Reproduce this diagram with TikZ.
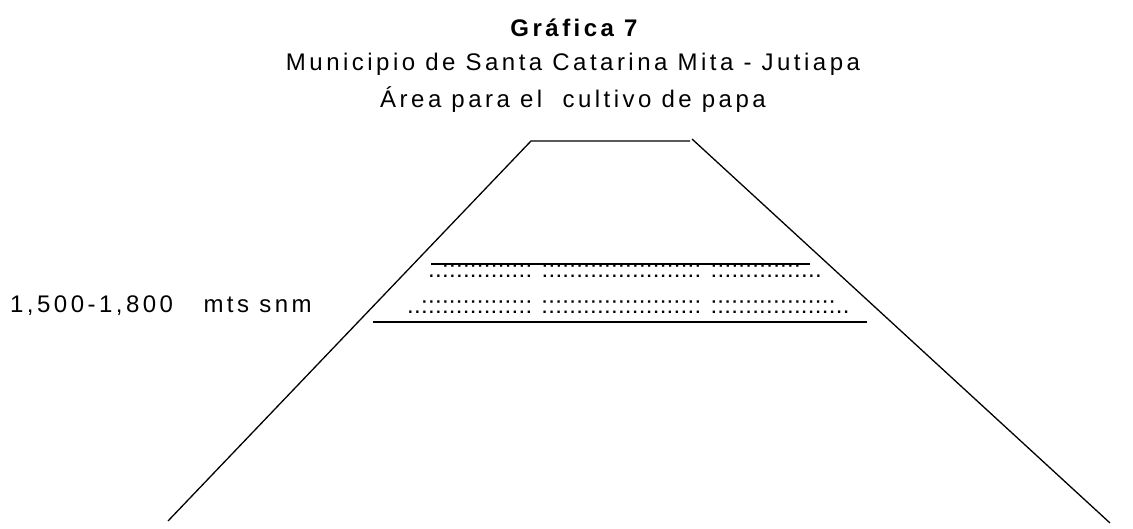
\documentclass[tikz,border=0pt]{standalone}
\usepackage{fontspec}
\setmainfont{Liberation Sans}
\begin{document}
\begin{tikzpicture}[x=1bp,y=-1bp,
rotulo/.style={inner sep=0pt,anchor=base,font=\fontsize{24bp}{28bp}\selectfont\addfontfeature{LetterSpace=14.5}},
puntos/.style={inner sep=0pt,anchor=base west,font=\fontsize{24bp}{28bp}\selectfont\addfontfeature{LetterSpace=1.2}},
ladera/.style={line width=1.3bp},
franja/.style={line width=1.7bp}]
\useasboundingbox (0,0) rectangle (1133,529);

\draw (574,37) node[rotulo] (G) {\bfseries Gráfica 7};
\draw (573,71) node[rotulo] (M) {Municipio de Santa Catarina Mita - Jutiapa};
\draw (573,108) node[rotulo] (A) {Área para el \ cultivo de papa};

% cerro
\coordinate (pieizq) at (168,521);
\coordinate (cimaizq) at (531,141);
\coordinate (cimader) at (690,141);
\coordinate (iniciader) at (692,139);
\coordinate (pieder) at (1110,523);
\draw[ladera] (pieizq) -- (cimaizq) -- (cimader);
\draw[ladera] (iniciader) -- (pieder);

% franja de cultivo
\coordinate (sup1) at (431,263.7);
\coordinate (sup2) at (810,263.7);
\coordinate (inf1) at (373,322.3);
\coordinate (inf2) at (867,322.3);
\draw[franja] (sup1) -- (sup2);
\draw[franja] (inf1) -- (inf2);

\draw (428,278) node[puntos] (P1) {..::::::::::::: ::::::::::::::::::::::: :::::::::::::...};
\draw (407,313.5) node[puntos] (P2) {..:::::::::::::::: ::::::::::::::::::::::: ::::::::::::::::::..};

\draw (10,313) node[rotulo,anchor=base west] (alt) {1,500-1,800\ \ \ mts snm};
\end{tikzpicture}
\end{document}
